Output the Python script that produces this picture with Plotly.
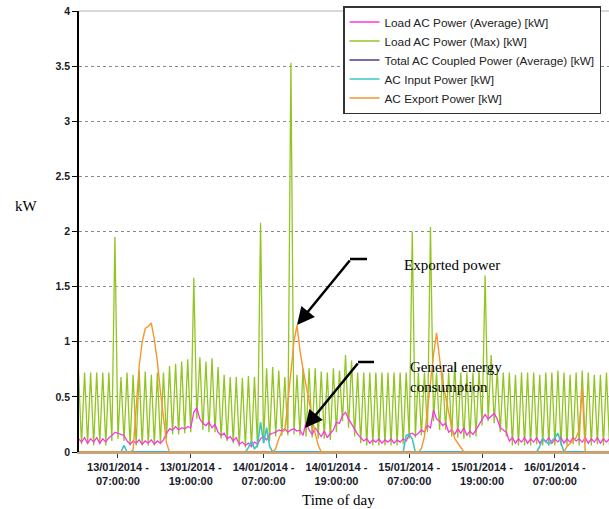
import pandas as pd
import plotly.graph_objects as go

# ---------------- data (30-minute samples from 13/01/2014 00:30) ----------------
start_time = "2014-01-13 00:30"
n_samples = 176

load_max = [
    0.72, 0.07, 0.72, 0.07, 0.72, 0.06, 0.72, 0.07, 0.72, 0.06, 0.72, 0.10, 1.95, 0.12, 0.68, 0.10,
    0.72, 0.06, 0.70, 0.06, 0.74, 0.06, 0.73, 0.06, 0.70, 0.06, 0.72, 0.07, 0.72, 0.12, 0.78, 0.16,
    0.80, 0.16, 0.82, 0.17, 0.84, 0.18, 1.58, 0.30, 0.86, 0.20, 0.82, 0.18, 0.85, 0.18, 0.77, 0.12,
    0.70, 0.10, 0.68, 0.08, 0.68, 0.05, 0.67, 0.04, 0.69, 0.04, 0.68, 0.04, 2.08, 0.08, 0.76, 0.10,
    0.77, 0.14, 0.74, 0.15, 0.68, 0.15, 3.53, 0.16, 0.70, 0.15, 0.76, 0.14, 0.76, 0.13, 0.76, 0.12,
    0.73, 0.12, 0.72, 0.11, 0.76, 0.18, 0.74, 0.28, 0.88, 0.22, 0.83, 0.14, 0.72, 0.08, 0.72, 0.06,
    0.72, 0.06, 0.72, 0.06, 0.72, 0.06, 0.72, 0.06, 0.72, 0.06, 0.72, 0.07, 0.72, 0.12, 2.00, 0.13,
    0.72, 0.15, 0.72, 0.18, 2.04, 0.28, 0.72, 0.20, 0.72, 0.20, 0.72, 0.14, 0.81, 0.13, 0.72, 0.12,
    0.72, 0.13, 0.72, 0.14, 0.74, 0.24, 1.60, 0.28, 0.88, 0.26, 0.74, 0.18, 0.72, 0.14, 0.72, 0.06,
    0.70, 0.06, 0.72, 0.06, 0.72, 0.06, 0.72, 0.07, 0.70, 0.06, 0.72, 0.06, 0.72, 0.06, 0.74, 0.06,
    0.72, 0.06, 0.70, 0.07, 0.72, 0.06, 0.74, 0.08, 0.72, 0.06, 0.70, 0.07, 0.70, 0.06, 0.72, 0.06,
]

load_avg = [
    0.12, 0.09, 0.13, 0.08, 0.12, 0.09, 0.13, 0.08, 0.12, 0.09, 0.13, 0.15, 0.18, 0.17, 0.16, 0.15,
    0.10, 0.07, 0.10, 0.08, 0.11, 0.07, 0.10, 0.08, 0.11, 0.07, 0.10, 0.08, 0.11, 0.17, 0.21, 0.20,
    0.23, 0.20, 0.22, 0.21, 0.23, 0.22, 0.36, 0.40, 0.30, 0.26, 0.24, 0.27, 0.22, 0.25, 0.18, 0.15,
    0.17, 0.12, 0.14, 0.10, 0.13, 0.07, 0.09, 0.06, 0.08, 0.05, 0.09, 0.07, 0.12, 0.14, 0.11, 0.16,
    0.17, 0.18, 0.20, 0.19, 0.21, 0.18, 0.20, 0.21, 0.19, 0.20, 0.15, 0.27, 0.20, 0.16, 0.22, 0.18,
    0.14, 0.19, 0.13, 0.17, 0.20, 0.27, 0.26, 0.33, 0.36, 0.30, 0.25, 0.20, 0.16, 0.13, 0.10, 0.12,
    0.08, 0.11, 0.09, 0.12, 0.08, 0.11, 0.09, 0.12, 0.08, 0.11, 0.09, 0.12, 0.10, 0.16, 0.17, 0.15,
    0.17, 0.20, 0.18, 0.24, 0.22, 0.38, 0.30, 0.28, 0.24, 0.26, 0.18, 0.20, 0.16, 0.21, 0.17, 0.22,
    0.15, 0.19, 0.16, 0.20, 0.25, 0.30, 0.34, 0.30, 0.33, 0.35, 0.30, 0.22, 0.20, 0.18, 0.10, 0.13,
    0.08, 0.12, 0.09, 0.13, 0.08, 0.12, 0.09, 0.13, 0.08, 0.12, 0.09, 0.13, 0.08, 0.12, 0.09, 0.13,
    0.08, 0.12, 0.09, 0.13, 0.10, 0.12, 0.09, 0.13, 0.08, 0.12, 0.09, 0.13, 0.08, 0.12, 0.09, 0.12,
]

total_ac_coupled = [
    0, 0, 0, 0, 0, 0, 0, 0, 0, 0, 0, 0, 0, 0, 0, 0,
    0, 0, 0, 0, 0, 0, 0, 0, 0, 0, 0, 0, 0, 0, 0, 0,
    0, 0, 0, 0, 0, 0, 0, 0, 0, 0, 0, 0, 0, 0, 0, 0,
    0, 0, 0, 0, 0, 0, 0, 0, 0, 0, 0, 0, 0, 0, 0, 0,
    0, 0, 0, 0, 0, 0, 0, 0, 0, 0, 0, 0, 0, 0, 0, 0,
    0, 0, 0, 0, 0, 0, 0, 0, 0, 0, 0, 0, 0, 0, 0, 0,
    0, 0, 0, 0, 0, 0, 0, 0, 0, 0, 0, 0, 0, 0, 0, 0,
    0, 0, 0, 0, 0, 0, 0, 0, 0, 0, 0, 0, 0, 0, 0, 0,
    0, 0, 0, 0, 0, 0, 0, 0, 0, 0, 0, 0, 0, 0, 0, 0,
    0, 0, 0, 0, 0, 0, 0, 0, 0, 0, 0, 0, 0, 0, 0, 0,
    0, 0, 0, 0, 0, 0, 0, 0, 0, 0, 0, 0, 0, 0, 0, 0,
]

ac_input = [
    0, 0, 0, 0, 0, 0, 0, 0, 0, 0, 0, 0, 0, 0, 0, 0.06,
    0, 0, 0, 0, 0, 0, 0, 0, 0, 0, 0, 0, 0, 0, 0, 0,
    0, 0, 0, 0, 0, 0, 0, 0, 0, 0, 0, 0, 0, 0, 0, 0,
    0, 0, 0, 0, 0, 0, 0, 0, 0.04, 0.10, 0.03, 0.06, 0.27, 0.08, 0.22, 0.05,
    0, 0, 0, 0, 0, 0, 0, 0, 0, 0, 0, 0, 0, 0, 0, 0,
    0, 0, 0, 0, 0, 0, 0, 0, 0, 0, 0, 0, 0, 0, 0, 0,
    0, 0, 0, 0, 0, 0, 0, 0, 0, 0, 0, 0, 0.15, 0.16, 0.12, 0,
    0, 0, 0, 0, 0, 0, 0, 0, 0, 0, 0, 0, 0, 0, 0, 0,
    0, 0, 0, 0, 0, 0, 0, 0, 0, 0, 0, 0, 0, 0, 0, 0,
    0, 0, 0, 0, 0, 0, 0, 0, 0.05, 0.12, 0.10, 0.07, 0.10, 0.13, 0.17, 0.08,
    0, 0, 0, 0, 0, 0, 0, 0, 0, 0, 0, 0, 0, 0, 0, 0,
]

ac_export = [
    0, 0, 0, 0, 0, 0, 0, 0, 0, 0, 0, 0, 0, 0, 0, 0,
    0, 0, 0.02, 0.40, 0.78, 1.00, 1.12, 1.14, 1.17, 1.02, 0.82, 0.55, 0.30, 0.08, 0, 0,
    0, 0, 0, 0, 0, 0, 0, 0, 0, 0, 0, 0, 0, 0, 0, 0,
    0, 0, 0, 0, 0, 0, 0, 0, 0, 0, 0, 0, 0, 0, 0, 0,
    0, 0.03, 0.12, 0.18, 0.20, 0.45, 0.75, 1.00, 1.15, 0.92, 0.75, 0.60, 0.45, 0.30, 0.17, 0.06,
    0, 0, 0, 0, 0, 0, 0, 0, 0, 0, 0, 0, 0, 0, 0, 0,
    0, 0, 0, 0, 0, 0, 0, 0, 0, 0, 0, 0, 0, 0, 0, 0,
    0, 0.03, 0.14, 0.38, 0.65, 0.88, 1.08, 0.85, 0.62, 0.50, 0.36, 0.22, 0.12, 0.08, 0.03, 0,
    0, 0, 0, 0, 0, 0, 0, 0, 0, 0, 0, 0, 0, 0, 0, 0,
    0, 0, 0, 0, 0, 0, 0, 0, 0, 0, 0, 0, 0, 0, 0, 0,
    0, 0.05, 0.08, 0.10, 0.13, 0.20, 0.58, 0, 0, 0, 0, 0, 0, 0, 0, 0,
]

tick_vals = ["2014-01-13 07:00", "2014-01-13 19:00", "2014-01-14 07:00", "2014-01-14 19:00",
             "2014-01-15 07:00", "2014-01-15 19:00", "2014-01-16 07:00"]
tick_text = ["13/01/2014 -<br>07:00:00", "13/01/2014 -<br>19:00:00", "14/01/2014 -<br>07:00:00",
             "14/01/2014 -<br>19:00:00", "15/01/2014 -<br>07:00:00", "15/01/2014 -<br>19:00:00",
             "16/01/2014 -<br>07:00:00"]
y_tick_vals = [0, 0.5, 1, 1.5, 2, 2.5, 3, 3.5, 4]
y_tick_text = ["0", "0.5", "1", "1.5", "2", "2.5", "3", "3.5", "4"]

times = pd.date_range(start_time, periods=n_samples, freq="30min")

# ---------------- layout geometry (page pixels; body margin removed below) ----------------
W, H = 609, 509
ML, MR, MT, MB = 79, 0, 11, 57
PW, PH = W - ML - MR, H - MT - MB


def px(xp):
    return (xp - ML) / PW


def py(yp):
    return (H - MB - yp) / PH


sans = "Liberation Sans, Arial, sans-serif"
serif = "Liberation Serif, Times New Roman, serif"

fig = go.Figure()
fig.add_trace(go.Scatter(x=times, y=load_max, name="Load AC Power (Max) [kW]", mode="lines",
                         line=dict(color="#93c522", width=1.3), legendrank=2))
fig.add_trace(go.Scatter(x=times, y=load_avg, name="Load AC Power (Average) [kW]", mode="lines",
                         line=dict(color="#ff33e6", width=1.3), legendrank=1))
fig.add_trace(go.Scatter(x=times, y=total_ac_coupled, name="Total AC Coupled Power (Average) [kW]",
                         mode="lines", line=dict(color="#7a6aa8", width=2), legendrank=3))
fig.add_trace(go.Scatter(x=times, y=ac_input, name="AC Input Power [kW]", mode="lines",
                         line=dict(color="#3cc4c8", width=1.6), legendrank=4))
fig.add_trace(go.Scatter(x=times, y=ac_export, name="AC Export Power [kW]", mode="lines",
                         line=dict(color="#f7952e", width=1.4), legendrank=5))

fig.update_layout(
    width=W, height=H,
    margin=dict(l=ML, r=MR, t=MT, b=MB, autoexpand=False),
    paper_bgcolor="white", plot_bgcolor="white",
    showlegend=True,
    legend=dict(x=px(343), y=py(6), xanchor="left", yanchor="top",
                bgcolor="white", bordercolor="#333333", borderwidth=1.5,
                font=dict(family=sans, size=11.8, color="#222222"),
                tracegroupgap=4),
    xaxis=dict(range=["2014-01-13 00:35", "2014-01-16 15:55"], automargin=False,
               tickmode="array", tickvals=tick_vals, ticktext=tick_text,
               tickfont=dict(family=sans, size=11, color="#1a1a2a", weight="bold"),
               ticks="outside", ticklen=4, tickcolor="#333333",
               showgrid=False, zeroline=False, ticklabeloverflow="allow",
               showline=True, linecolor="#c8a67a", linewidth=1.5),
    yaxis=dict(range=[0, 4], automargin=False, tickmode="array", tickvals=y_tick_vals,
               ticktext=y_tick_text, ticklabeloverflow="allow",
               tickfont=dict(family=sans, size=10.5, color="#1a1a2a", weight="bold"),
               ticks="outside", ticklen=5, tickcolor="black",
               showgrid=True, gridcolor="#8a8a8a", griddash="dot", gridwidth=1,
               zeroline=False, showline=True, linecolor="black", linewidth=1.5),
)

# top border line
fig.add_shape(type="line", xref="paper", yref="paper", x0=0, x1=1, y0=1, y1=1,
              line=dict(color="#b0b0b0", width=1))

# axis titles
fig.add_annotation(text="kW", xref="paper", yref="paper", x=px(26), y=py(206),
                   xanchor="center", yanchor="middle",
                   showarrow=False, font=dict(family=serif, size=15, color="black"))
fig.add_annotation(text="Time of day", xref="paper", yref="paper", x=px(338), y=py(500),
                   xanchor="center", yanchor="middle",
                   showarrow=False, font=dict(family=serif, size=15, color="black"))

# callouts
fig.add_annotation(text="Exported power", xref="paper", yref="paper", x=px(402), y=py(265),
                   xanchor="left", yanchor="middle", showarrow=False,
                   font=dict(family=serif, size=15, color="black"))
fig.add_annotation(text="General energy<br>consumption", xref="paper", yref="paper",
                   x=px(408), y=py(377), xanchor="left", yanchor="middle", align="left",
                   showarrow=False, font=dict(family=serif, size=15, color="black"))

fig.add_shape(type="line", xref="paper", yref="paper", x0=px(350), x1=px(367), y0=py(259), y1=py(259),
              line=dict(color="black", width=2.5))
fig.add_shape(type="line", xref="paper", yref="paper", x0=px(358), x1=px(374), y0=py(362), y1=py(362),
              line=dict(color="black", width=2.5))
fig.add_annotation(text="", xref="paper", yref="paper", x=px(297), y=py(325),
                   ax=54, ay=-66, showarrow=True, arrowhead=2, arrowsize=1.4,
                   arrowwidth=2.5, arrowcolor="black")
fig.add_annotation(text="", xref="paper", yref="paper", x=px(305), y=py(428),
                   ax=54, ay=-66, showarrow=True, arrowhead=2, arrowsize=1.4,
                   arrowwidth=2.5, arrowcolor="black")

fig.write_html("out.html", config={"displayModeBar": False},
               post_script="document.body.style.margin='0';document.body.style.overflow='hidden';")
